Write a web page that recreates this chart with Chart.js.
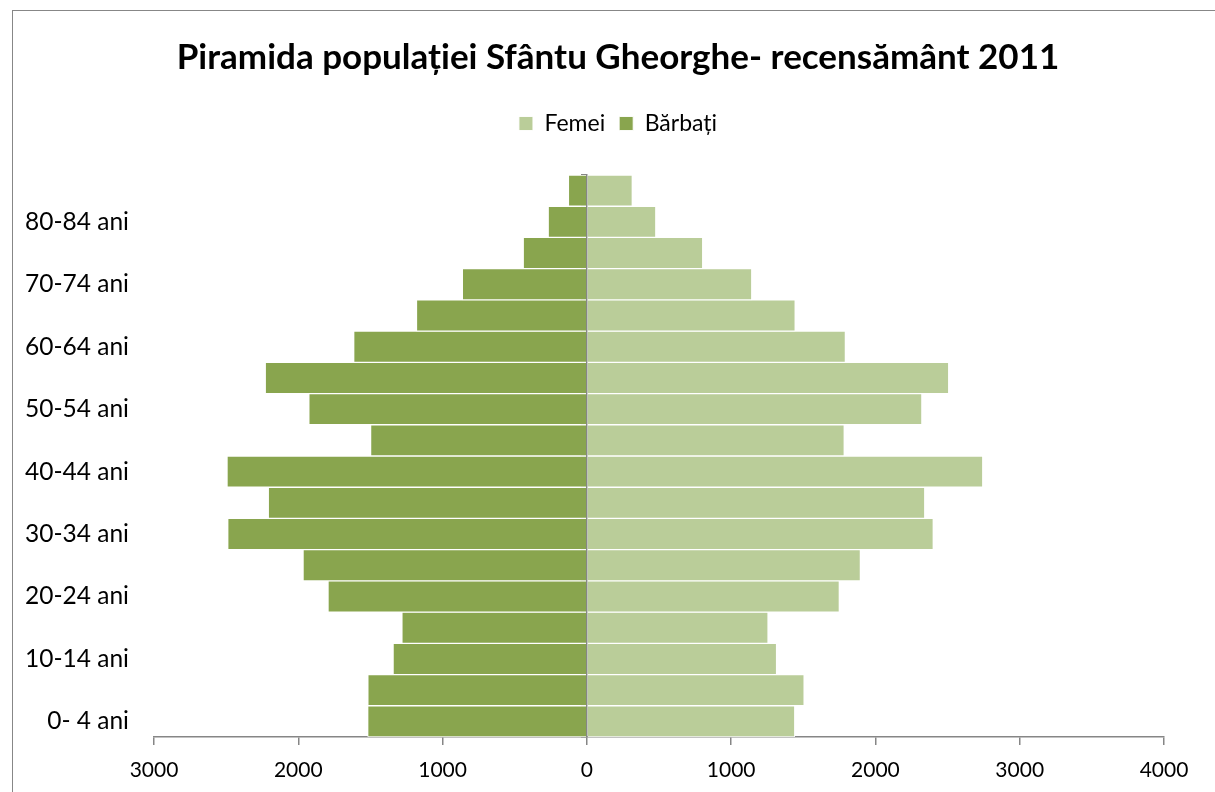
<!DOCTYPE html>
<html>
<head>
<meta charset="utf-8">
<script src="https://cdn.jsdelivr.net/npm/chart.js@4/dist/chart.umd.min.js"></script>
<style>
  html, body { margin: 0; padding: 0; background: #fff; overflow: hidden; }
  #frame {
    position: absolute; left: 12px; top: 10px;
    width: 1210px; height: 782px;
    border-left: 1px solid #878787; border-top: 1px solid #878787;
  }
</style>
</head>
<body>
<div id="frame"><canvas id="chart"></canvas></div>
<script>
const ageGroups = ['0- 4 ani', '5- 9 ani', '10-14 ani', '15-19 ani', '20-24 ani', '25-29 ani',
  '30-34 ani', '35-39 ani', '40-44 ani', '45-49 ani', '50-54 ani', '55-59 ani',
  '60-64 ani', '65-69 ani', '70-74 ani', '75-79 ani', '80-84 ani', '85+ ani']
const femei = [1441, 1506, 1315, 1256, 1750, 1896, 2401, 2342, 2744, 1784, 2322, 2508,
  1792, 1444, 1143, 803, 478, 315]
const barbati = [1519, 1518, 1343, 1282, 1794, 1967, 2489, 2208, 2494, 1499, 1927, 2229,
  1616, 1181, 863, 441, 268, 128]
const xMin = -3000
const xMax = 4000

const font = 'Lato'
const axisGray = '#868686'

const ctx = document.getElementById('chart').getContext('2d')
ctx.canvas.width = 1210
ctx.canvas.height = 782

// blank axis used only to reserve space around the plot
const spacer = (axis, position, size) => ({
  axis,
  type: 'linear',
  position,
  ticks: { display: false },
  grid: { display: false, drawTicks: false },
  border: { display: false },
  afterFit: s => { if (axis === 'x') s.height = size; else s.width = size }
})

new Chart(ctx, {
  type: 'bar',
  data: {
    labels: ageGroups,
    datasets: [
      {
        label: 'Femei',
        data: femei,
        xAxisID: 'x',
        yAxisID: 'y',
        backgroundColor: '#bacd99',
        borderColor: 'rgba(255,255,255,0.9)',
        borderWidth: 1
      },
      {
        label: 'Bărbați',
        data: barbati.map(v => -v),
        xAxisID: 'x',
        yAxisID: 'y',
        backgroundColor: '#89a54e',
        borderColor: 'rgba(255,255,255,0.9)',
        borderWidth: 1
      }
    ]
  },
  options: {
    indexAxis: 'y',
    responsive: false,
    animation: false,
    layout: { padding: 0 },
    datasets: { bar: { barPercentage: 1, categoryPercentage: 1 } },
    plugins: {
      title: {
        display: true,
        text: 'Piramida populației Sfântu Gheorghe- recensământ 2011',
        color: '#000',
        font: { family: font, size: 35, weight: 'bold' },
        padding: { top: 26, bottom: 19 }
      },
      legend: {
        display: true,
        labels: {
          color: '#000',
          font: { family: font, size: 23 },
          boxWidth: 14,
          boxHeight: 14,
          padding: 14
        }
      },
      tooltip: { enabled: false }
    },
    scales: {
      x: {
        stacked: true,
        min: xMin,
        max: xMax,
        ticks: {
          stepSize: 1000,
          color: '#000',
          font: { family: font, size: 21 },
          padding: 13,
          callback: v => Math.abs(v)
        },
        grid: { drawOnChartArea: false, tickLength: 8, color: axisGray, lineWidth: 1.5 },
        border: { display: true, color: axisGray, width: 1.5 },
        afterFit: s => { s.height = 56 }
      },
      y: {
        stacked: true,
        reverse: true,
        ticks: {
          autoSkip: false,
          color: '#000',
          font: { family: font, size: 24.5 },
          padding: 17,
          callback: function (v, i) { return i % 2 === 0 ? this.getLabelForValue(v) : '' }
        },
        grid: { display: false },
        border: { display: false },
        afterFit: s => { s.width = 141 }
      },
      // centre line at zero, drawn over the bars
      yc: {
        axis: 'y',
        type: 'category',
        position: { x: 0 },
        reverse: true,
        offset: true,
        z: 1,
        ticks: { display: false },
        grid: { offset: true, drawOnChartArea: false, tickLength: 5, color: axisGray, lineWidth: 1.5 },
        border: { display: true, color: axisGray, width: 1.5 }
      },
      xTop: spacer('x', 'top', 30),
      yRight: spacer('y', 'right', 59)
    }
  }
})
</script>
</body>
</html>
